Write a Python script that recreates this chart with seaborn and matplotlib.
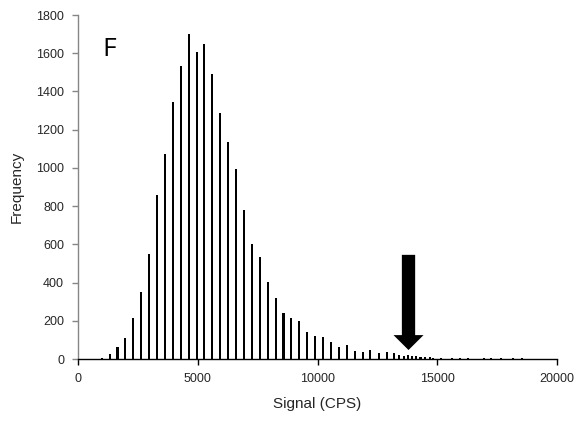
import matplotlib
matplotlib.use("Agg")
import matplotlib.pyplot as plt
import seaborn as sns
import pandas as pd
import numpy as np

# Histogram of per-spot signal (counts per second)
signal = [
    990, 1320, 1650, 1980, 2310, 2640, 2970, 3300, 3630, 3960,
    4290, 4620, 4950, 5280, 5610, 5940, 6270, 6600, 6930, 7260,
    7590, 7920, 8250, 8580, 8910, 9240, 9570, 9900, 10230, 10560,
    10890, 11220, 11550, 11880, 12210, 12570, 12900, 13190, 13400, 13610,
    13780, 13950, 14130, 14300, 14490, 14680, 14820, 15160, 15620, 15950,
    16280, 16950, 17240, 17660, 18160, 18540, 19500,
]
frequency = [
    5, 25, 64, 112, 213, 351, 551, 860, 1072, 1346,
    1534, 1703, 1604, 1649, 1492, 1286, 1135, 996, 778, 604,
    532, 401, 319, 239, 215, 198, 140, 119, 115, 87,
    61, 73, 42, 35, 46, 30, 37, 30, 20, 18,
    20, 15, 16, 11, 12, 8, 6, 5, 5, 4,
    4, 3, 3, 3, 3, 3, 2,
]

x_ticks = [0, 5000, 10000, 15000, 20000]
y_ticks = [0, 200, 400, 600, 800, 1000, 1200, 1400, 1600, 1800]

panel_label = "F"
x_label = "Signal (CPS)"
y_label = "Frequency"

# marker arrow pointing at the bright tail
arrow_x = 13800
arrow_top = 545
arrow_tip = 47

sns.set_theme(style="white")
plt.rcParams["font.family"] = ["Liberation Sans", "DejaVu Sans"]

df = pd.DataFrame({"signal": signal, "frequency": frequency})

fig = plt.figure(figsize=(5.85, 4.24), dpi=100)
ax = fig.add_axes([78 / 585, 1 - 359 / 424, (557 - 78) / 585, (359 - 15) / 424])

bar_units = 85.0
min_gap = np.min(np.diff(np.unique(signal)))
sns.barplot(data=df, x="signal", y="frequency", native_scale=True,
            width=bar_units / min_gap, color="black", errorbar=None,
            saturation=1, linewidth=0, ax=ax)

ax.set_xlim(0, 20000)
ax.set_ylim(0, 1800)
ax.set_xticks(x_ticks)
ax.set_yticks(y_ticks)
ax.set_xticklabels([str(v) for v in x_ticks])
ax.set_yticklabels([str(v) for v in y_ticks])

ax.set_xlabel(x_label, fontsize=11, labelpad=9)
ax.set_ylabel(y_label, fontsize=11, labelpad=9)

for side in ("top", "right"):
    ax.spines[side].set_visible(False)
ax.spines["left"].set_color("#868686")
ax.spines["left"].set_linewidth(1.0)
ax.spines["bottom"].set_color("black")
ax.spines["bottom"].set_linewidth(1.0)

ax.tick_params(axis="y", direction="out", length=4, width=1.0, color="#868686",
               labelsize=9, pad=6, left=True)
ax.tick_params(axis="x", direction="out", length=4, width=1.0, color="black",
               labelsize=9, pad=6, bottom=True)

ax.text(0.05, 0.882, panel_label, transform=ax.transAxes, fontsize=19,
        ha="left", va="baseline", color="black", family=["Open Sans", "DejaVu Sans"])

ax.arrow(arrow_x, arrow_top, 0, arrow_tip - arrow_top, width=555,
         head_width=1253, head_length=78, length_includes_head=True,
         color="black", linewidth=0)

fig.savefig("out.png", dpi=100)
